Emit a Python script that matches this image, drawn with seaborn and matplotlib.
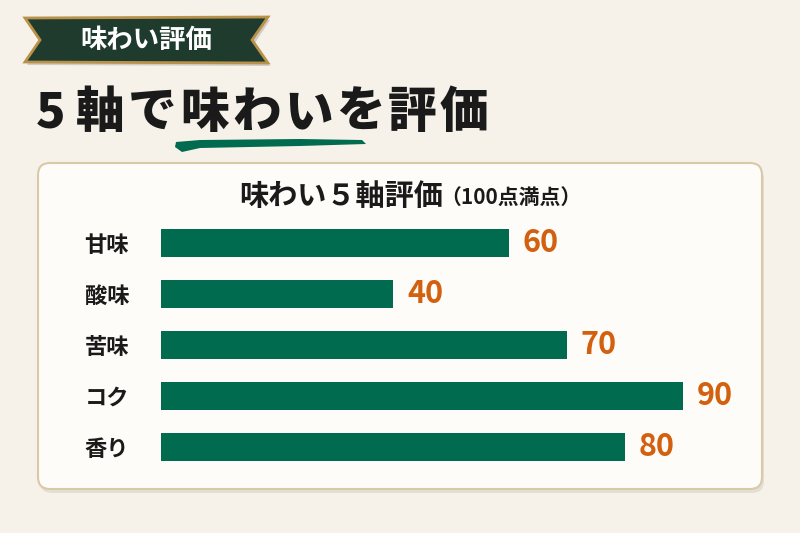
import matplotlib
matplotlib.use("Agg")
import matplotlib.pyplot as plt
import seaborn as sns
import pandas as pd
from matplotlib.patches import FancyBboxPatch, Polygon

# data
categories = ["甘味", "酸味", "苦味", "コク", "香り"]
scores = [60, 40, 70, 90, 80]

BG = "#f6f2e9"
CARD = "#fdfcf8"
GREEN = "#006b4f"
DARK = "#1f3b2d"
GOLD = "#b8914a"
ORANGE = "#d2600f"

sns.set_theme(style="white")
plt.rcParams["font.family"] = ["Noto Sans CJK JP", "DejaVu Sans"]
plt.rcParams["font.weight"] = "bold"

fig = plt.figure(figsize=(8, 5.33), dpi=100)
fig.patch.set_facecolor(BG)

# full-figure layer in pixel coordinates for the decorations
deco = fig.add_axes([0, 0, 1, 1], zorder=0)
deco.set_xlim(0, 800)
deco.set_ylim(533, 0)
deco.axis("off")

# banner ribbon
shadow = Polygon([(27, 21), (270, 20), (255, 43), (270, 66), (27, 65), (42, 43)],
                 closed=True, facecolor="#000000", alpha=0.15, edgecolor="none")
deco.add_patch(shadow)
ribbon = Polygon([(25, 18), (268, 17), (252, 40), (268, 63), (25, 62), (40, 40)],
                 closed=True, facecolor=DARK, edgecolor=GOLD, linewidth=2)
deco.add_patch(ribbon)
deco.text(146, 41, "味わい評価", color="white", fontsize=19, fontweight="bold",
          ha="center", va="center")

# main heading, drawn glyph by glyph for the wide letter spacing
heading = "5軸で味わいを評価"
x = 36
for ch in heading:
    deco.text(x, 113, ch, color="#1a1a1a", fontsize=35, fontweight="heavy",
              ha="left", va="center")
    x += 40 if ch == "5" else 52
# brush stroke under 味わい
stroke = Polygon([(176, 142), (200, 140), (300, 139), (362, 140), (366, 144),
                  (300, 146), (200, 148), (182, 152), (175, 147)],
                 closed=True, facecolor=GREEN, edgecolor="none")
deco.add_patch(stroke)

# card
card_shadow = FancyBboxPatch((40, 167), 724, 326, boxstyle="round,pad=0,rounding_size=12",
                             facecolor="#000000", alpha=0.08, edgecolor="none")
deco.add_patch(card_shadow)
card = FancyBboxPatch((38, 163), 724, 326, boxstyle="round,pad=0,rounding_size=12",
                      facecolor=CARD, edgecolor="#d9c9a6", linewidth=1.5)
deco.add_patch(card)

# chart title
deco.text(443, 196, "味わい５軸評価", color="#1a1a1a", fontsize=21,
          fontweight="bold", ha="right", va="center")
deco.text(440, 197, "（100点満点）", color="#1a1a1a", fontsize=15,
          fontweight="bold", ha="left", va="center")

# bar chart
df = pd.DataFrame({"項目": categories, "点数": scores})
px_per_unit = 5.8
ax = fig.add_axes([161 / 800, 1 - 472.5 / 533, 100 * px_per_unit / 800, 255 / 533], zorder=1)
ax.patch.set_alpha(0)
sns.barplot(data=df, x="点数", y="項目", orient="h", color=GREEN, width=0.55,
            saturation=1, edgecolor="none", ax=ax)
ax.set_xlim(0, 100)
ax.set_ylim(4.5, -0.5)
ax.set_xlabel("")
ax.set_ylabel("")
ax.set_xticks([])
ax.tick_params(axis="y", length=0, pad=23, labelsize=16)
for lbl in ax.get_yticklabels():
    lbl.set_fontweight("bold")
    lbl.set_color("#1a1a1a")
sns.despine(ax=ax, left=True, bottom=True)
ax.bar_label(ax.containers[0], labels=[str(v) for v in scores], padding=10,
             color=ORANGE, fontsize=22, fontweight="bold")

fig.savefig("out.png", dpi=100, facecolor=BG)
